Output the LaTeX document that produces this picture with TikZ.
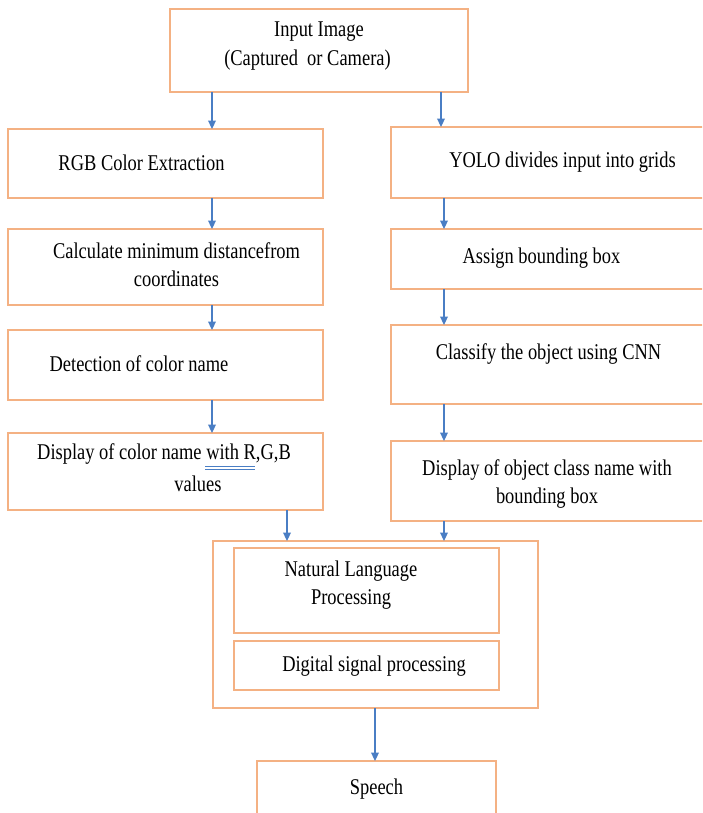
\documentclass[tikz,border=0pt]{standalone}
\usepackage{fontspec}
\setmainfont{Liberation Serif}[FakeStretch=0.82]
\usetikzlibrary{arrows.meta,fit}
\definecolor{bord}{HTML}{F4B183}
\definecolor{bleu}{HTML}{4A7EC4}
\begin{document}
\begin{tikzpicture}[x=0.025cm, y=-0.025cm]
\tikzset{etape/.style={draw=bord, line width=1.1pt, inner sep=0pt, outer sep=0pt},
  texte/.style={inner sep=0pt, align=center, font=\fontsize{16}{20}\selectfont},
  fleche/.style={draw=bleu, line width=0.8pt, -{Triangle[length=6pt, width=5.5pt]}}}
\useasboundingbox (0,0) rectangle (702,813);
\clip (0,0) rectangle (702,813);
\node[etape, fit={(170,9) (468,92)}] (input) {};
\node[etape, fit={(8,129) (323,198)}] (rgb) {};
\node[etape, fit={(8,229) (323,305)}] (calc) {};
\node[etape, fit={(8,330) (323,400)}] (detect) {};
\node[etape, fit={(8,433) (323,510)}] (dispcol) {};
\node[etape, fit={(391,127) (715,198)}] (yolo) {};
\node[etape, fit={(391,229) (715,289)}] (assign) {};
\node[etape, fit={(391,325) (715,404)}] (classify) {};
\node[etape, fit={(391,441) (715,521)}] (dispobj) {};
\node[etape, fit={(213,541) (538,708)}] (traitement) {};
\node[etape, fit={(234,548) (499,633)}] (nlp) {};
\node[etape, fit={(234,641) (499,690)}] (dsp) {};
\node[etape, fit={(257,761) (496,830)}] (speech) {};
\node[texte] (inputa) at (319,31.5) {Input Image};
\node[texte] (inputb) at (307.5,60) {(Captured\ \ or Camera)};
\node[texte] (rgbtxt) at (141.5,163) {RGB Color Extraction};
\node[texte] (calctxt) at (176.5,264.5) {Calculate minimum distancefrom\\coordinates};
\node[texte] (detecttxt) at (139,363.5) {Detection of color name};
\node[texte] (dispcola) at (164,454.5) {Display of color name with R,G,B};
\node[texte] (dispcolb) at (198,483.5) {values};
\node[texte] (yolotxt) at (562.5,162) {YOLO divides input into grids};
\node[texte] (assigntxt) at (541.5,258) {Assign bounding box};
\node[texte] (classifytxt) at (548.5,354) {Classify the object using CNN};
\node[texte] (dispobjtxt) at (547,484) {Display of object class name with\\bounding box};
\node[texte] (nlptxt) at (351,585) {Natural Language\\Processing};
\node[texte] (dsptxt) at (374,666.5) {Digital signal processing};
\node[texte] (speechtxt) at (376.5,789) {Speech};
\draw[bleu, line width=0.5pt] (205,466.5) -- (255,466.5) (205,469) -- (255,469);
\coordinate (xg) at (212,0);
\coordinate (xd) at (441,0);
\coordinate (xr) at (444,0);
\coordinate (xc) at (287,0);
\coordinate (xs) at (375,0);
\draw[fleche] (input.south -| xg) -- (rgb.north -| xg);
\draw[fleche] (input.south -| xd) -- (yolo.north -| xd);
\draw[fleche] (rgb.south -| xg) -- (calc.north -| xg);
\draw[fleche] (calc.south -| xg) -- (detect.north -| xg);
\draw[fleche] (detect.south -| xg) -- (dispcol.north -| xg);
\draw[fleche] (yolo.south -| xr) -- (assign.north -| xr);
\draw[fleche] (assign.south -| xr) -- (classify.north -| xr);
\draw[fleche] (classify.south -| xr) -- (dispobj.north -| xr);
\draw[fleche] (dispcol.south -| xc) -- (traitement.north -| xc);
\draw[fleche] (dispobj.south -| xr) -- (traitement.north -| xr);
\draw[fleche] (traitement.south -| xs) -- (speech.north -| xs);
\end{tikzpicture}
\end{document}
